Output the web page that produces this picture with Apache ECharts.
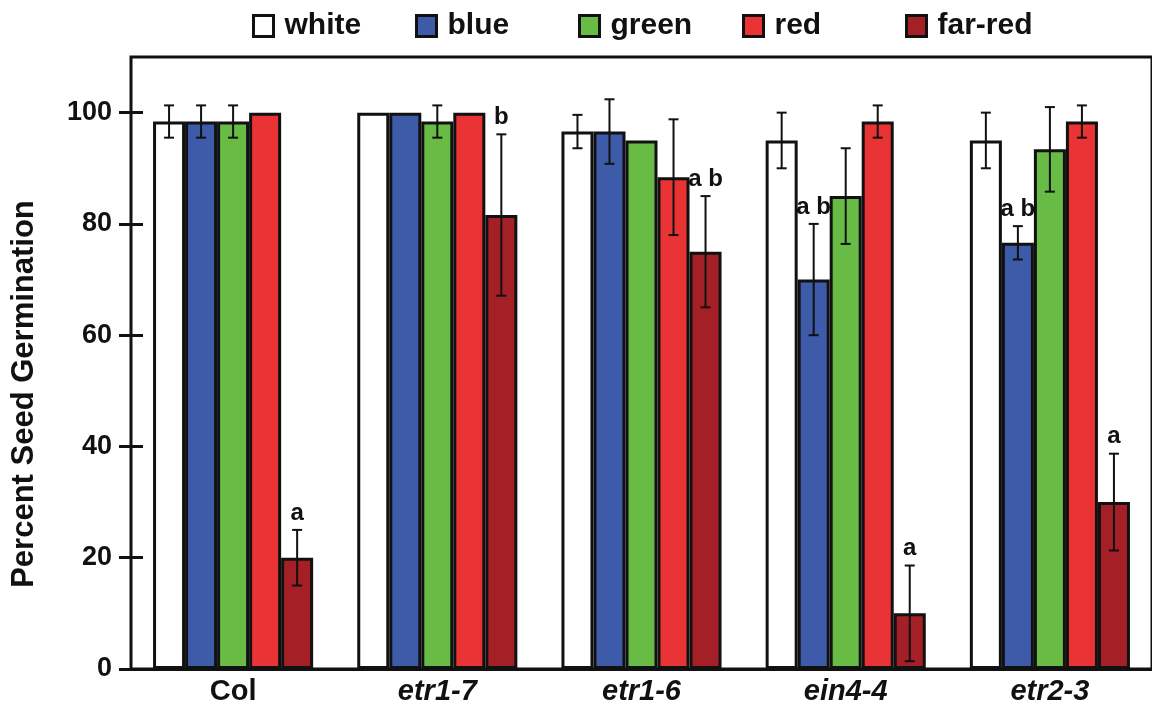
<!DOCTYPE html>
<html><head><meta charset="utf-8">
<script src="https://cdn.jsdelivr.net/npm/echarts@6/dist/echarts.min.js"></script>
<style>html,body{margin:0;padding:0;background:#fff}#c{width:1152px;height:708px}</style>
</head><body><div id="c"></div>
<script>
const categories = ['Col', 'etr1-7', 'etr1-6', 'ein4-4', 'etr2-3'];
const italicCats = ['etr1-7', 'etr1-6', 'ein4-4', 'etr2-3'];
const seriesNames = ['white', 'blue', 'green', 'red', 'far-red'];
const white = [98.4, 100, 96.6, 95, 95];
const whiteErr = [2.9, 0, 3, 5, 5];
const blue = [98.4, 100, 96.6, 70, 76.6];
const blueErr = [2.9, 0, 5.8, 10, 3];
const green = [98.4, 98.4, 95, 85, 93.4];
const greenErr = [2.9, 2.9, 0, 8.6, 7.6];
const red = [100, 100, 88.4, 98.4, 98.4];
const redErr = [0, 0, 10.4, 2.9, 2.9];
const farRed = [20, 81.6, 75, 10, 30];
const farRedErr = [5, 14.5, 10, 8.6, 8.7];
const whiteLabels = ['', '', '', '', ''];
const blueLabels = ['', '', '', 'a b', 'a b'];
const greenLabels = ['', '', '', '', ''];
const redLabels = ['', '', '', '', ''];
const farRedLabels = ['a', 'b', 'a b', 'a', 'a'];
const yTicks = [0, 20, 40, 60, 80, 100];

const colors = ['#ffffff', '#3e5ba9', '#68bc46', '#ea3335', '#a52026'];
const values = [white, blue, green, red, farRed];
const errs = [whiteErr, blueErr, greenErr, redErr, farRedErr];
const labels = [whiteLabels, blueLabels, greenLabels, redLabels, farRedLabels];
const legendLeft = [252, 415, 578, 742, 905];

const GRID_LEFT = 131, GRID_WIDTH = 1027;
const GROUP_FRAC = 0.784;
const TICK_HALF = 12;
const FONT = 'Arial, "Liberation Sans", Helvetica, sans-serif';
const INK = '#111';

const chart = echarts.init(document.getElementById('c'), null, {renderer: 'canvas'});

const series = [];
seriesNames.forEach((name, k) => {
  series.push({
    name: name, type: 'bar',
    data: values[k], barGap: '0%', barCategoryGap: ((1 - GROUP_FRAC) * 100).toFixed(1) + '%',
    itemStyle: {color: colors[k], borderColor: INK, borderWidth: 3},
    z: 2, animation: false
  });
});
seriesNames.forEach((name, k) => {
  series.push({
    type: 'custom', z: 5, animation: false, silent: true,
    data: values[k].map((v, i) => [i, v, errs[k][i]]),
    renderItem: function (params, api) {
      const ci = api.value(0), v = api.value(1), e = api.value(2);
      const lab = labels[k][ci];
      const c = api.coord([ci, v]);
      const band = api.size([1, 0])[0];
      const bw = band * GROUP_FRAC / 5;
      const x = c[0] + (k - 2) * bw;
      const children = [];
      let topY = c[1];
      if (e > 0) {
        const t = api.coord([ci, v + e])[1];
        const b = api.coord([ci, v - e])[1];
        topY = t;
        const ls = {stroke: INK, lineWidth: 2};
        children.push({type: 'line', shape: {x1: x, y1: t, x2: x, y2: b}, style: ls});
        children.push({type: 'line', shape: {x1: x - 5, y1: t, x2: x + 5, y2: t}, style: ls});
        children.push({type: 'line', shape: {x1: x - 5, y1: b, x2: x + 5, y2: b}, style: ls});
      }
      if (lab) {
        children.push({type: 'text', style: {text: lab, x: x, y: topY - 5, align: 'center', verticalAlign: 'bottom',
          fontSize: 24, fontWeight: 'bold', fontFamily: FONT, fill: INK}});
      }
      return {type: 'group', children: children};
    }
  });
});

const legends = seriesNames.map((name, k) => ({
  data: [name], left: legendLeft[k], top: 11, padding: 0, icon: 'rect',
  itemWidth: 20, itemHeight: 21, selectedMode: false,
  itemStyle: {borderColor: INK, borderWidth: 3},
  textStyle: {fontSize: 30, fontWeight: 'bold', fontFamily: FONT, color: INK, padding: [0, 0, 0, 6]}
}));

const option = {
  backgroundColor: '#fff',
  animation: false,
  legend: legends,
  grid: {left: GRID_LEFT, top: 57, width: GRID_WIDTH, bottom: 39, show: true, borderColor: INK, borderWidth: 3, backgroundColor: 'transparent'},
  xAxis: {type: 'category', data: categories,
    axisLine: {lineStyle: {color: INK, width: 3}}, axisTick: {show: false},
    axisLabel: {margin: 8, formatter: v => italicCats.includes(v) ? '{i|' + v + '}' : '{n|' + v + '}',
      rich: {
        n: {fontSize: 29, fontWeight: 'bold', fontFamily: FONT, color: INK},
        i: {fontSize: 29, fontWeight: 'bold', fontStyle: 'italic', fontFamily: FONT, color: INK}
      }}},
  yAxis: {type: 'value', min: 0, max: 110, interval: 20, position: 'left', offset: -TICK_HALF,
    axisLine: {show: false},
    axisTick: {show: true, inside: false, length: 2 * TICK_HALF, lineStyle: {color: INK, width: 3}, customValues: yTicks},
    axisLabel: {margin: 19 + TICK_HALF, fontSize: 27, fontWeight: 'bold', fontFamily: FONT, color: INK, customValues: yTicks},
    splitLine: {show: false}},
  graphic: [{
    type: 'text', x: 24, y: 394, rotation: Math.PI / 2,
    style: {text: 'Percent Seed Germination', align: 'center', verticalAlign: 'middle',
      fontSize: 31, fontWeight: 'bold', fontFamily: FONT, fill: INK}
  }],
  series: series
};
chart.setOption(option);
</script></body></html>
